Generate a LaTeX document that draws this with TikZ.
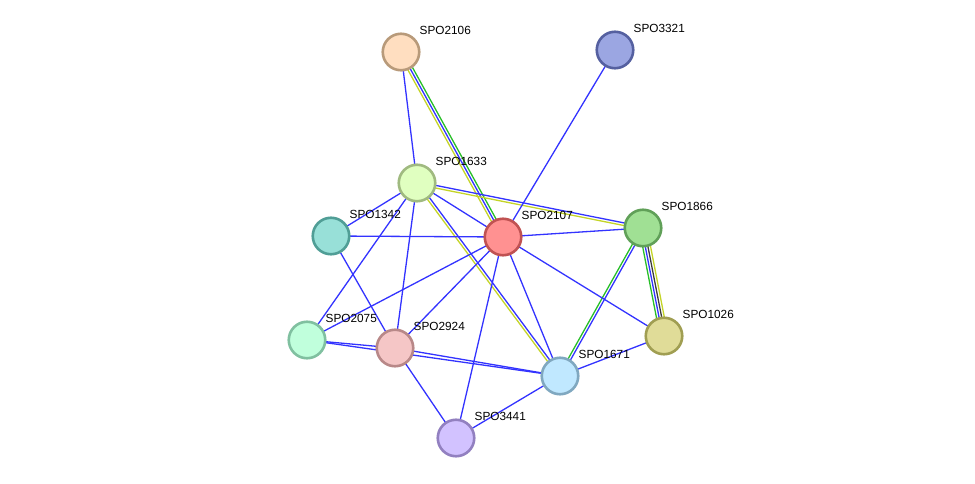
\documentclass[tikz,border=0pt]{standalone}
\usepackage{fontspec}
\setmainfont{Liberation Sans}
\usetikzlibrary{calc,backgrounds}
\definecolor{eblue}{RGB}{51,51,255}
\definecolor{eyel}{RGB}{196,212,40}
\definecolor{egreen}{RGB}{40,190,40}
\definecolor{edark}{RGB}{60,60,60}
\newcommand{\pedge}[4]{\draw[edge,#4] ($(#1.center)!#3!90:(#2.center)$) -- ($(#2.center)!#3!-90:(#1.center)$);}
\tikzset{
  prot/.style={circle,minimum size=36.5pt,inner sep=0pt,line width=2.6pt},
  lab/.style={anchor=west,inner sep=0pt,font=\fontsize{11.8}{14}\selectfont},
  edge/.style={line width=1.3pt}
}
\begin{document}
\begin{tikzpicture}[x=1pt,y=-1pt]
\useasboundingbox (0,0) rectangle (975,484);
\node[prot,fill={rgb,255:red,255;green,222;blue,192},draw={rgb,255:red,184;green,154;blue,122}] (SPO2106) at (401,52) {};
\node[prot,fill={rgb,255:red,155;green,166;blue,226},draw={rgb,255:red,85;green,96;blue,160}] (SPO3321) at (615,50) {};
\node[prot,fill={rgb,255:red,224;green,255;blue,192},draw={rgb,255:red,160;green,186;blue,128}] (SPO1633) at (417,183) {};
\node[prot,fill={rgb,255:red,152;green,224;blue,216},draw={rgb,255:red,80;green,158;blue,150}] (SPO1342) at (331,236) {};
\node[prot,fill={rgb,255:red,255;green,145;blue,145},draw={rgb,255:red,192;green,82;blue,82}] (SPO2107) at (503,237) {};
\node[prot,fill={rgb,255:red,160;green,224;blue,148},draw={rgb,255:red,96;green,160;blue,88}] (SPO1866) at (643,228) {};
\node[prot,fill={rgb,255:red,224;green,220;blue,152},draw={rgb,255:red,160;green,158;blue,82}] (SPO1026) at (664,336) {};
\node[prot,fill={rgb,255:red,192;green,255;blue,220},draw={rgb,255:red,128;green,192;blue,160}] (SPO2075) at (307,340) {};
\node[prot,fill={rgb,255:red,245;green,198;blue,198},draw={rgb,255:red,184;green,136;blue,136}] (SPO2924) at (395,348) {};
\node[prot,fill={rgb,255:red,192;green,232;blue,255},draw={rgb,255:red,128;green,168;blue,192}] (SPO1671) at (560,376) {};
\node[prot,fill={rgb,255:red,210;green,194;blue,255},draw={rgb,255:red,146;green,128;blue,192}] (SPO3441) at (456,438) {};
\foreach \n in {SPO2106,SPO3321,SPO1633,SPO1342,SPO2107,SPO1866,SPO1026,SPO2075,SPO2924,SPO1671,SPO3441}{
  \node[lab] (l\n) at ($(\n.center)+(18.5,-22)$) {\n};
}
\begin{pgfonlayer}{background}
\pedge{SPO2106}{SPO2107}{-2.6pt}{eyel}
\pedge{SPO2106}{SPO2107}{0pt}{eblue}
\pedge{SPO2106}{SPO2107}{2.6pt}{egreen}
\pedge{SPO1633}{SPO1866}{1.3pt}{eblue}
\pedge{SPO1633}{SPO1866}{-1.3pt}{eyel}
\pedge{SPO1633}{SPO1671}{1.3pt}{eblue}
\pedge{SPO1633}{SPO1671}{-1.3pt}{eyel}
\pedge{SPO1866}{SPO1026}{-3.9pt}{egreen}
\pedge{SPO1866}{SPO1026}{-1.3pt}{eblue}
\pedge{SPO1866}{SPO1026}{1.3pt}{edark}
\pedge{SPO1866}{SPO1026}{3.9pt}{eyel}
\pedge{SPO1866}{SPO1671}{-1.3pt}{egreen}
\pedge{SPO1866}{SPO1671}{1.3pt}{eblue}
\foreach \a/\b in {SPO2106/SPO1633,SPO3321/SPO2107,SPO1633/SPO2107,SPO1633/SPO1342,SPO1633/SPO2075,SPO1633/SPO2924,SPO1342/SPO2107,SPO1342/SPO2924,SPO2107/SPO1866,SPO2107/SPO1026,SPO2107/SPO1671,SPO2107/SPO2075,SPO2107/SPO2924,SPO2107/SPO3441,SPO2075/SPO2924,SPO2075/SPO1671,SPO2924/SPO1671,SPO2924/SPO3441,SPO1671/SPO3441,SPO1671/SPO1026}{
  \draw[edge,eblue] (\a.center) -- (\b.center);
}
\end{pgfonlayer}
\end{tikzpicture}
\end{document}
